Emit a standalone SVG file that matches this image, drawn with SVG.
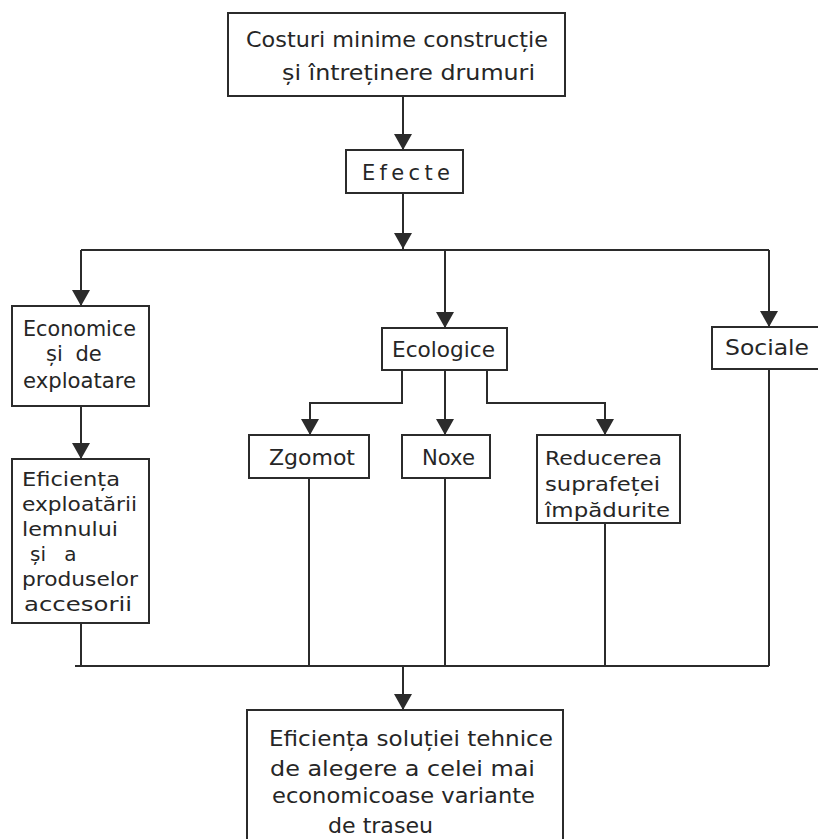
<svg xmlns="http://www.w3.org/2000/svg" width="818" height="839" viewBox="0 0 818 839">
<defs>
<style>
.box{fill:#fff;stroke:#2b2b2b;stroke-width:2}
.c{fill:none;stroke:#2b2b2b;stroke-width:2}
text{font-family:"DejaVu Sans","Liberation Sans",sans-serif;font-size:21px;fill:#262626}
text.s{font-size:20px}
</style>
<marker id="ah" markerUnits="userSpaceOnUse" markerWidth="18" markerHeight="18" refX="16" refY="9" orient="auto" viewBox="0 0 18 18">
<path d="M0,0 L16,9 L0,18 Z" fill="#2b2b2b"/>
</marker>
</defs>
<rect width="818" height="839" fill="#fff"/>
<g id="connectors">
<path class="c" d="M403,96 V150" marker-end="url(#ah)"/>
<path class="c" d="M403,193 V249" marker-end="url(#ah)"/>
<path class="c" d="M81,250 H769"/>
<path class="c" d="M81,250 V306" marker-end="url(#ah)"/>
<path class="c" d="M445,250 V328" marker-end="url(#ah)"/>
<path class="c" d="M769,250 V327" marker-end="url(#ah)"/>
<path class="c" d="M81,406 V459" marker-end="url(#ah)"/>
<path class="c" d="M402,370 V403 H310 V435" marker-end="url(#ah)"/>
<path class="c" d="M445,370 V435" marker-end="url(#ah)"/>
<path class="c" d="M487,370 V403 H605 V435" marker-end="url(#ah)"/>
<path class="c" d="M81,623 V666"/>
<path class="c" d="M309,478 V666"/>
<path class="c" d="M445,478 V666"/>
<path class="c" d="M605,523 V666"/>
<path class="c" d="M769,369 V666"/>
<path class="c" d="M75,666 H769"/>
<path class="c" d="M403,666 V710" marker-end="url(#ah)"/>
</g>
<g id="top">
<rect class="box" x="228" y="13" width="337" height="83"/>
<text x="246" y="47" textLength="302" lengthAdjust="spacingAndGlyphs">Costuri minime construcție</text>
<text x="282" y="80" textLength="253" lengthAdjust="spacingAndGlyphs">și întreținere drumuri</text>
</g>
<g id="efecte">
<rect class="box" x="346" y="150" width="117" height="43"/>
<text x="362" y="180" textLength="88" lengthAdjust="spacing">Efecte</text>
</g>
<g id="economice">
<rect class="box" x="12" y="306" width="137" height="100"/>
<text x="23" y="336" textLength="113" lengthAdjust="spacingAndGlyphs">Economice</text>
<text x="46" y="361" word-spacing="6">și de</text>
<text x="23" y="388" textLength="113" lengthAdjust="spacingAndGlyphs">exploatare</text>
</g>
<g id="ecologice">
<rect class="box" x="382" y="328" width="125" height="42"/>
<text x="392" y="357" textLength="103" lengthAdjust="spacingAndGlyphs">Ecologice</text>
</g>
<g id="sociale">
<rect class="box" x="712" y="327" width="120" height="42"/>
<text x="725" y="355" textLength="84" lengthAdjust="spacingAndGlyphs">Sociale</text>
</g>
<g id="eficienta-exploatarii">
<rect class="box" x="12" y="459" width="137" height="164"/>
<text class="s" x="22" y="486" textLength="98" lengthAdjust="spacingAndGlyphs">Eficiența</text>
<text class="s" x="22" y="511" textLength="115" lengthAdjust="spacingAndGlyphs">exploatării</text>
<text class="s" x="22" y="536" textLength="96" lengthAdjust="spacingAndGlyphs">lemnului</text>
<text class="s" x="30" y="561" word-spacing="12">și a</text>
<text class="s" x="22" y="586" textLength="116" lengthAdjust="spacingAndGlyphs">produselor</text>
<text class="s" x="24" y="611" textLength="108" lengthAdjust="spacingAndGlyphs">accesorii</text>
</g>
<g id="zgomot">
<rect class="box" x="249" y="435" width="120" height="43"/>
<text x="269" y="465" textLength="86" lengthAdjust="spacingAndGlyphs">Zgomot</text>
</g>
<g id="noxe">
<rect class="box" x="402" y="435" width="88" height="43"/>
<text x="422" y="465" textLength="53" lengthAdjust="spacingAndGlyphs">Noxe</text>
</g>
<g id="reducerea">
<rect class="box" x="537" y="435" width="143" height="88"/>
<text class="s" x="545" y="465" textLength="117" lengthAdjust="spacingAndGlyphs">Reducerea</text>
<text class="s" x="545" y="491" textLength="115" lengthAdjust="spacingAndGlyphs">suprafeței</text>
<text class="s" x="545" y="517" textLength="125" lengthAdjust="spacingAndGlyphs">împădurite</text>
</g>
<g id="eficienta-solutiei">
<rect class="box" x="247" y="710" width="316" height="150"/>
<text x="269" y="746" textLength="284" lengthAdjust="spacingAndGlyphs">Eficiența soluției tehnice</text>
<text x="270" y="776" textLength="265" lengthAdjust="spacingAndGlyphs">de alegere a celei mai</text>
<text x="272" y="803" textLength="263" lengthAdjust="spacingAndGlyphs">economicoase variante</text>
<text x="328" y="833" textLength="105" lengthAdjust="spacingAndGlyphs">de traseu</text>
</g>
</svg>
